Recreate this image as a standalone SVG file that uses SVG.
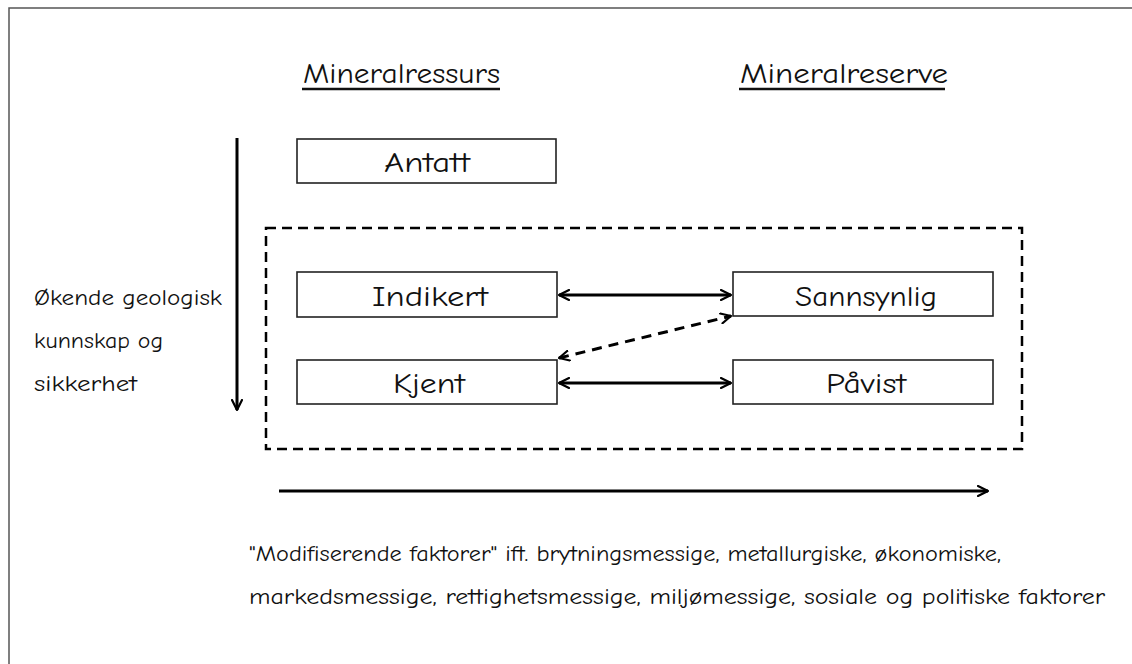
<svg xmlns="http://www.w3.org/2000/svg" width="1132" height="664" viewBox="0 0 1132 664">
<defs>
<marker id="ah" viewBox="0 0 12 12" refX="11" refY="6" markerWidth="12" markerHeight="12" markerUnits="userSpaceOnUse" orient="auto-start-reverse">
<path d="M1,1 L11,6 L1,11" fill="none" stroke="#000" stroke-width="2.2" stroke-linecap="round" stroke-linejoin="round"/>
</marker>
<style>
.box{fill:#fff;stroke:#222;stroke-width:1.6}
.t{font-family:"Comic Neue","Liberation Sans",Arial,sans-serif;fill:#111}
.bt{font-size:29px;text-anchor:middle}
.h{font-size:29px}
.s{font-size:22px}
.c{stroke:#000;stroke-width:3;fill:none}
</style>
</defs>
<rect width="1132" height="664" fill="#fff"/>
<path d="M9,664 V8 H1132" fill="none" stroke="#555" stroke-width="1.5"/>
<g id="headers">
<text class="t h" x="303" y="83" textLength="197" lengthAdjust="spacingAndGlyphs">Mineralressurs</text>
<line x1="302" y1="89" x2="500" y2="89" stroke="#111" stroke-width="2.5"/>
<text class="t h" x="740" y="83" textLength="208" lengthAdjust="spacingAndGlyphs">Mineralreserve</text>
<line x1="739" y1="89" x2="945" y2="89" stroke="#111" stroke-width="2.5"/>
</g>
<g id="group-box">
<rect x="266" y="228" width="756" height="221" fill="none" stroke="#000" stroke-width="2.5" stroke-dasharray="10,6"/>
</g>
<g id="node-antatt">
<rect class="box" x="297" y="139" width="259" height="44"/>
<text class="t bt" x="427" y="172" textLength="86" lengthAdjust="spacingAndGlyphs">Antatt</text>
</g>
<g id="node-indikert">
<rect class="box" x="297" y="272" width="260" height="45"/>
<text class="t bt" x="430" y="306" textLength="116" lengthAdjust="spacingAndGlyphs">Indikert</text>
</g>
<g id="node-sannsynlig">
<rect class="box" x="733" y="272" width="260" height="44"/>
<text class="t bt" x="866" y="306" textLength="142" lengthAdjust="spacingAndGlyphs">Sannsynlig</text>
</g>
<g id="node-kjent">
<rect class="box" x="297" y="360" width="260" height="44"/>
<text class="t bt" x="429" y="393" textLength="72" lengthAdjust="spacingAndGlyphs">Kjent</text>
</g>
<g id="node-pavist">
<rect class="box" x="733" y="360" width="260" height="44"/>
<text class="t bt" x="866" y="393" textLength="80" lengthAdjust="spacingAndGlyphs">Påvist</text>
</g>
<g id="label-left">
<text class="t s" x="34" y="305" textLength="188" lengthAdjust="spacingAndGlyphs">Økende geologisk</text>
<text class="t s" x="34" y="348" textLength="129" lengthAdjust="spacingAndGlyphs">kunnskap og</text>
<text class="t s" x="34" y="391" textLength="103" lengthAdjust="spacingAndGlyphs">sikkerhet</text>
</g>
<g id="label-bottom">
<text class="t s" x="249" y="561" textLength="752" lengthAdjust="spacingAndGlyphs">"Modifiserende faktorer" ift. brytningsmessige, metallurgiske, økonomiske,</text>
<text class="t s" x="249" y="604" textLength="856" lengthAdjust="spacingAndGlyphs">markedsmessige, rettighetsmessige, miljømessige, sosiale og politiske faktorer</text>
</g>
<g id="connectors">
<line class="c" x1="237" y1="138" x2="237" y2="410" marker-end="url(#ah)"/>
<line class="c" x1="279" y1="491" x2="988" y2="491" marker-end="url(#ah)"/>
<line class="c" x1="559" y1="295" x2="731" y2="295" marker-start="url(#ah)" marker-end="url(#ah)"/>
<line class="c" x1="559" y1="383" x2="731" y2="383" marker-start="url(#ah)" marker-end="url(#ah)"/>
<line class="c" x1="559" y1="358" x2="731" y2="316" stroke-dasharray="10,7" marker-start="url(#ah)" marker-end="url(#ah)"/>
</g>
</svg>
